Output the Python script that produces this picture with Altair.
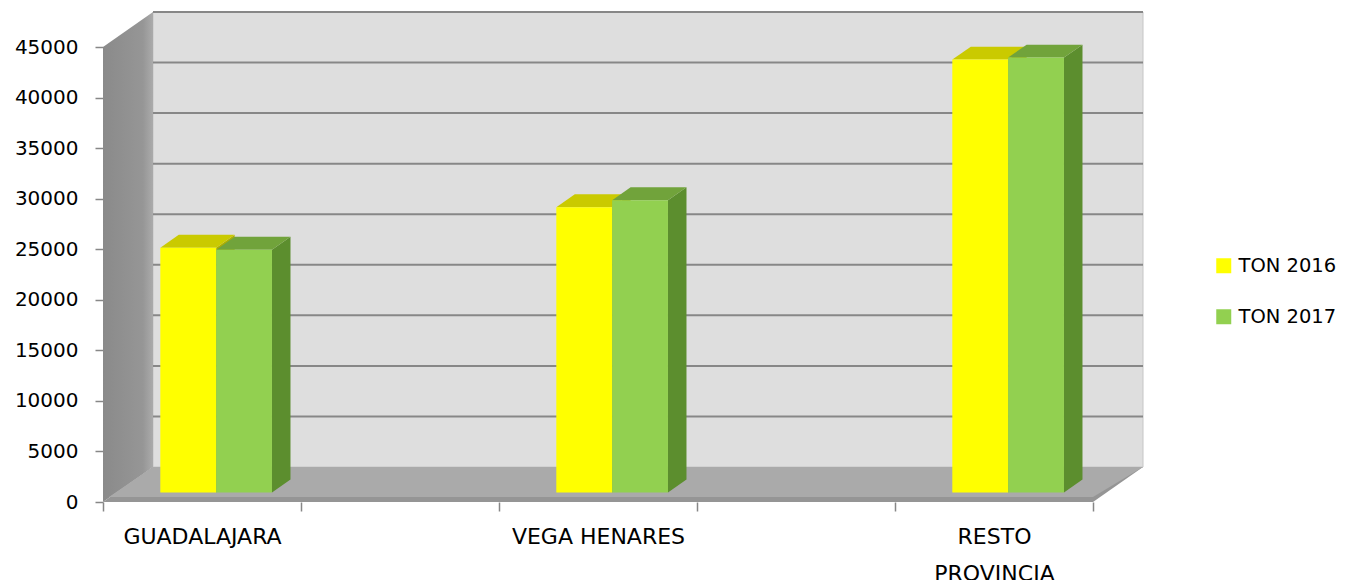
import altair as alt
import pandas as pd

# ---------------- data ----------------
categories = ["GUADALAJARA", "VEGA HENARES", "RESTO PROVINCIA"]
series = ["TON 2016", "TON 2017"]
ton_2016 = [24200, 28200, 42800]
ton_2017 = [24000, 28900, 43000]
y_ticks = [0, 5000, 10000, 15000, 20000, 25000, 30000, 35000, 40000, 45000]

front_colors = ["#FFFF00", "#92D050"]
top_colors = ["#CACA00", "#71A33B"]
side_colors = ["#AFAF00", "#5C8E2E"]

# ---------------- layout of the 3-D box (in scale units) ----------------
W, H = 1040, 490
SLOT_PX = 198
N_SLOTS = 5                      # categories sit in slots 0, 2, 4 (Excel blank gaps)
XMAX = W / SLOT_PX
DX = XMAX - N_SLOTS              # depth shift in x
YTOP = 45000
UNITS_PER_PX = YTOP / 455
YMAX = H * UNITS_PER_PX
DY = YMAX - YTOP                 # depth shift in y
FLOOR_T = 5 * UNITS_PER_PX
D1, D2 = 0.275, 0.645            # bar front / back depth
BAR_OFF, BAR_W = 0.22, 0.282

values = {series[0]: ton_2016, series[1]: ton_2017}

front_rows, top_rows, side_rows = [], [], []
for ci, cat in enumerate(categories):
    slot = 2 * ci
    for si, s in enumerate(series):
        v = values[s][ci]
        xl = slot + BAR_OFF + si * BAR_W
        xr = xl + BAR_W
        fx, fy = D1 * DX, D1 * DY
        bx, by = D2 * DX, D2 * DY
        bid = f"{cat}-{s}"
        front_rows.append(dict(series=s, category=cat, x=xl + fx, x2=xr + fx, y=fy, y2=v + fy))
        top_rows.append(dict(id=bid, c=top_colors[si], y=v + fy, x=xl + fx, x2=xr + fx))
        top_rows.append(dict(id=bid, c=top_colors[si], y=v + by, x=xl + bx, x2=xr + bx))
        side_rows.append(dict(id=bid, c=side_colors[si], x=xr + fx, y=fy, y2=v + fy))
        side_rows.append(dict(id=bid, c=side_colors[si], x=xr + bx, y=by, y2=v + by))

front_df = pd.DataFrame(front_rows)
top_df = pd.DataFrame(top_rows)
side_df = pd.DataFrame(side_rows)

back_df = pd.DataFrame({"x": [DX], "x2": [XMAX], "y": [DY], "y2": [YMAX]})
grid_df = pd.DataFrame({"y": [v + DY for v in y_ticks[1:]], "x": DX, "x2": XMAX})
wall_df = pd.DataFrame({"x": [0, DX], "y": [0, DY], "y2": [YTOP, YMAX]})
floor_df = pd.DataFrame({"y": [0, DY], "x": [0, DX], "x2": [N_SLOTS, XMAX]})
floor_top_df = pd.DataFrame({"y": [FLOOR_T, DY], "x": [0.03, DX], "x2": [N_SLOTS, XMAX]})

# ---------------- scales / axes ----------------
xs = alt.Scale(domain=[0, XMAX], nice=False, zero=False)
ys = alt.Scale(domain=[0, YMAX], nice=False, zero=False)

label_pos = {2 * i + 0.5: c for i, c in enumerate(categories)}
expr = "''"
for pos, c in reversed(list(label_pos.items())):
    parts = c.split(" ")
    lab = "['" + "','".join(parts) + "']" if len(c) > 12 else "'" + c + "'"
    expr = f"datum.value == {pos} ? {lab} : ({expr})"
x_vals = sorted(set(list(range(N_SLOTS + 1)) + list(label_pos.keys())))

x_axis = alt.Axis(
    values=x_vals, labelExpr=expr, title=None, grid=False, domain=False,
    tickSize=9, tickColor="#878787", tickWidth=1.5,
    tickOpacity={"condition": {"test": "datum.value % 1 == 0", "value": 1}, "value": 0},
    labelFontSize=22, labelColor="#000000", labelPadding=15, labelLineHeight=37,
    labelOverlap=False, labelFlush=False, labelBound=False,
)
y_axis = alt.Axis(
    values=y_ticks, format="d", title=None, grid=False, domain=False,
    tickSize=8, tickColor="#878787", tickWidth=1.5,
    labelFontSize=20, labelColor="#000000", labelPadding=17,
)

def X(f):
    return alt.X(f, type="quantitative", scale=xs, axis=x_axis)

def Y(f):
    return alt.Y(f, type="quantitative", scale=ys, axis=y_axis)

back = alt.Chart(back_df).mark_rect(color="#DEDEDE", stroke="#C6C6C6", strokeWidth=1).encode(
    x=X("x"), x2="x2", y=Y("y"), y2="y2")

grid = alt.Chart(grid_df).mark_rule(color="#878787", strokeWidth=2).encode(
    x=X("x"), x2="x2", y=Y("y"))

wall = alt.Chart(wall_df).mark_area(
    orient="vertical",
    color=alt.Gradient(gradient="linear", x1=0, x2=1, y1=0, y2=0,
                       stops=[alt.GradientStop(offset=0, color="#8A8A8A"),
                              alt.GradientStop(offset=0.8, color="#969696"),
                              alt.GradientStop(offset=1, color="#ABABAB")]),
).encode(x=X("x"), y=Y("y"), y2="y2")

floor = alt.Chart(floor_df).mark_area(orient="horizontal", color="#959595").encode(
    y=Y("y"), x=X("x"), x2="x2")

floor_top = alt.Chart(floor_top_df).mark_area(orient="horizontal", color="#AAAAAA").encode(
    y=Y("y"), x=X("x"), x2="x2")

sides = alt.Chart(side_df).mark_area(orient="vertical").encode(
    x=X("x"), y=Y("y"), y2="y2", detail="id:N",
    color=alt.Color("c:N", scale=None))

tops = alt.Chart(top_df).mark_area(orient="horizontal").encode(
    y=Y("y"), x=X("x"), x2="x2", detail="id:N",
    color=alt.Color("c:N", scale=None))

fronts = alt.Chart(front_df).mark_rect().encode(
    x=X("x"), x2="x2", y=Y("y"), y2="y2",
    color=alt.Color("series:N",
                    scale=alt.Scale(domain=series, range=front_colors),
                    legend=alt.Legend(title=None, orient="none", legendX=1111, legendY=244,
                                      symbolType="square", symbolSize=225, symbolStrokeWidth=0,
                                      labelFontSize=19.5, labelColor="#000000", labelOffset=5,
                                      rowPadding=30, padding=0)))

chart = alt.layer(back, grid, wall, floor, floor_top, sides, tops, fronts).properties(
    width=W, height=H,
    autosize=alt.AutoSizeParams(type="none"),
    padding={"left": 95, "top": 4, "right": 197, "bottom": 86},
).configure(font="DejaVu Sans").configure_view(stroke=None)

chart.save("out.html", embed_options={"renderer": "svg", "actions": False})
